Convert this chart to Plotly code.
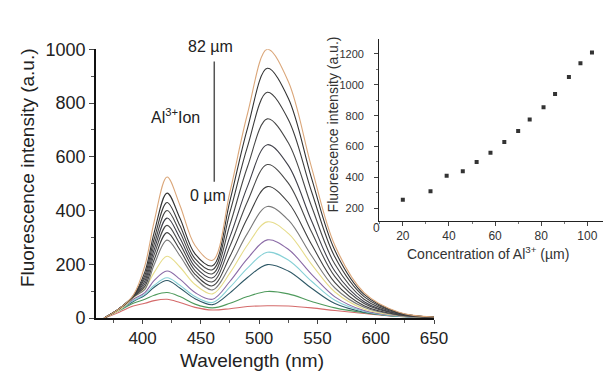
import plotly.graph_objects as go

# ---------------- data ----------------
wavelength = [367, 380, 392, 402, 410, 421, 432, 445, 460, 475, 490, 507, 525, 545, 565, 590, 620, 650]

spec_82 = [0, 35, 85, 195, 360, 525, 420, 270, 215, 470, 760, 1000, 880, 560, 270, 95, 22, 4]
spec_2 = [0, 35, 83, 172, 319, 465, 372, 239, 195, 437, 706, 929, 818, 520, 251, 88, 20, 4]
spec_3 = [0, 35, 82, 159, 295, 430, 344, 221, 180, 395, 638, 840, 739, 470, 227, 80, 19, 4]
spec_4 = [0, 35, 81, 148, 274, 400, 320, 206, 165, 348, 563, 741, 652, 415, 200, 70, 17, 4]
spec_5 = [0, 35, 80, 138, 255, 372, 298, 191, 150, 303, 490, 645, 568, 361, 174, 61, 15, 3]
spec_6 = [0, 35, 80, 128, 237, 345, 276, 177, 135, 268, 434, 571, 502, 320, 154, 54, 14, 3]
spec_7 = [0, 35, 79, 118, 218, 318, 254, 163, 120, 230, 372, 489, 430, 274, 132, 46, 12, 3]
spec_8 = [0, 35, 78, 107, 199, 290, 232, 149, 105, 195, 315, 415, 365, 232, 112, 40, 10, 3]
spec_9 = [0, 30, 75, 110, 170, 230, 190, 125, 90, 168, 272, 358, 315, 200, 97, 34, 9, 2]
spec_10 = [0, 30, 70, 95, 140, 175, 145, 95, 70, 137, 221, 291, 256, 163, 79, 28, 8, 2]
spec_11 = [0, 30, 65, 88, 122, 150, 122, 80, 58, 115, 186, 245, 216, 137, 66, 25, 7, 2]
spec_12 = [0, 30, 62, 85, 115, 140, 112, 72, 50, 94, 151, 199, 175, 111, 54, 22, 7, 2]
spec_13 = [0, 28, 55, 70, 85, 95, 80, 52, 38, 55, 80, 99, 90, 62, 38, 20, 6, 2]
spec_0 = [0, 22, 45, 55, 65, 70, 58, 40, 30, 35, 43, 46, 45, 38, 28, 17, 6, 2]

spectra = [spec_0, spec_13, spec_12, spec_11, spec_10, spec_9, spec_8, spec_7,
           spec_6, spec_5, spec_4, spec_3, spec_2, spec_82]
colors = ["#d46a6a", "#4e9a5c", "#2e5866", "#86d0d6", "#8a6aa6", "#e6dc8a",
          "#7a7a7a", "#404040", "#4a4a4a", "#40404a", "#484848", "#3c3c3c",
          "#333333", "#dba77a"]

conc = [20, 32, 39, 46, 52, 58, 64, 70, 75, 81, 86, 92, 97, 102]
intensity = [255, 310, 410, 440, 500, 560, 630, 700, 775, 855, 940, 1050, 1140, 1210]

x_ticks = [400, 450, 500, 550, 600, 650]
y_ticks = [0, 200, 400, 600, 800, 1000]
inset_x_ticks = [20, 40, 60, 80, 100]
inset_y_ticks = [200, 400, 600, 800, 1000, 1200]

# ---------------- figure ----------------
W, H = 611, 375
FONT = "Arial, Liberation Sans, sans-serif"
fig = go.Figure()

for ys, c in zip(spectra, colors):
    fig.add_trace(go.Scatter(x=wavelength, y=ys, mode="lines",
                             line=dict(color=c, width=1.1, shape="spline", smoothing=1.0),
                             xaxis="x", yaxis="y", showlegend=False, hoverinfo="skip"))

fig.add_trace(go.Scatter(x=conc, y=intensity, mode="markers",
                         marker=dict(symbol="square", size=4, color="#333333"),
                         xaxis="x2", yaxis="y2", showlegend=False))

def px_x(p):
    return p / W

def px_y(p):
    return 1 - p / H

fig.update_layout(
    width=W, height=H,
    margin=dict(l=0, r=0, t=0, b=0),
    paper_bgcolor="white", plot_bgcolor="white",
    font=dict(family=FONT, color="#222222"),
    xaxis=dict(domain=[px_x(90), px_x(436)], range=[360, 650],
               tickvals=x_ticks, ticks="outside", ticklen=4, tickwidth=1.3,
               tickfont=dict(size=17, color="#222"), showgrid=False, zeroline=False,
               showline=True, linecolor="#111", linewidth=1.5, anchor="y",
               minor=dict(dtick=25, tick0=0, ticks="outside", ticklen=3, tickcolor="#555"),
               ),
    yaxis=dict(domain=[px_y(317), px_y(33)], range=[0, 1000],
               tickvals=y_ticks, ticks="outside", ticklen=5, tickwidth=1.3,
               tickfont=dict(size=18, color="#222"), showgrid=False, zeroline=False,
               showline=True, linecolor="#111", linewidth=1.5, anchor="x",
               minor=dict(dtick=100, tick0=0, ticks="outside", ticklen=3, tickcolor="#555"),
               ),
    xaxis2=dict(domain=[px_x(380), px_x(609)], range=[9.8, 106.8],
                tickvals=inset_x_ticks, ticks="outside", ticklen=4, tickwidth=1,
                tickfont=dict(size=12, color="#333"), showgrid=False, zeroline=False,
                showline=True, linecolor="#222", linewidth=1.3, anchor="y2",
                minor=dict(dtick=10, tick0=0, ticks="outside", ticklen=2, tickcolor="#777"),
                ),
    yaxis2=dict(domain=[px_y(214), px_y(22)], range=[120, 1298],
                tickvals=inset_y_ticks, ticks="outside", ticklen=4, tickwidth=1,
                tickfont=dict(size=11, color="#333"), showgrid=False, zeroline=False,
                showline=True, linecolor="#222", linewidth=1.3, anchor="x2",
                ticklabelstandoff=8,
                minor=dict(dtick=100, tick0=0, ticks="outside", ticklen=2, tickcolor="#777"),
                ),
)

# vertical bar between 0 µm and 82 µm
fig.add_shape(type="line", xref="x", yref="y", x0=461.5, x1=461.5, y0=507, y1=954,
              line=dict(color="#555555", width=1.5))

ann = [
    dict(text="82 µm", x=px_x(207), y=px_y(30), font=dict(size=16)),
    dict(text="Al<sup>3+</sup>Ion", x=px_x(171), y=px_y(104), font=dict(size=16)),
    dict(text="0 µm", x=px_x(205), y=px_y(188), font=dict(size=16)),
    dict(text="Wavelength (nm)", x=px_x(250), y=px_y(362), font=dict(size=19)),
    dict(text="Fluorescence intensity (a.u.)", x=px_x(20), y=px_y(158),
         textangle=-90, font=dict(size=19)),
    dict(text="Fluorescence intensity (a.u.)", x=px_x(333), y=px_y(112),
         textangle=-90, font=dict(size=14, color="#333")),
    dict(text="Concentration of Al<sup>3+</sup> (µm)", x=px_x(491), y=px_y(248),
         font=dict(size=14, color="#333")),
    dict(text="0", x=px_x(377), y=px_y(222), font=dict(size=12, color="#333")),
]
for a in ann:
    fig.add_annotation(showarrow=False, xref="paper", yref="paper",
                       xanchor="center", yanchor="middle", **a)

fig.write_html("out.html")
